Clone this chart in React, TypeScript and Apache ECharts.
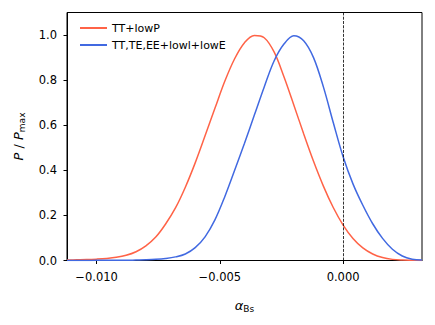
import React, { useEffect, useRef } from "react";
import * as echarts from "echarts";

const xs = [
  -0.0112, -0.0108, -0.0104, -0.01, -0.0096, -0.0092, -0.0088, -0.0084, -0.008, -0.0076,
  -0.0072, -0.0068, -0.0064, -0.006, -0.0056, -0.0052, -0.0048, -0.0044, -0.004, -0.0036,
  -0.0032, -0.0028, -0.0024, -0.002, -0.0016, -0.0012, -0.0008, -0.0004, 0, 0.0004,
  0.0008, 0.0012, 0.0016, 0.002, 0.0024, 0.0028, 0.0032,
];
const redVals = [
  0.002, 0.003, 0.004, 0.006, 0.009, 0.014, 0.023, 0.039, 0.065, 0.104,
  0.162, 0.233, 0.325, 0.433, 0.553, 0.675, 0.795, 0.895, 0.966, 0.998,
  0.988, 0.925, 0.815, 0.69, 0.562, 0.44, 0.33, 0.235, 0.157, 0.098,
  0.056, 0.029, 0.013, 0.005, 0.002, 0.001, 0.0005,
];
const blueVals = [
  0, 0, 0, 0.001, 0.001, 0.001, 0.001, 0.002, 0.003, 0.005,
  0.009, 0.016, 0.029, 0.057, 0.105, 0.18, 0.283, 0.4, 0.52, 0.645,
  0.77, 0.885, 0.96, 0.997, 0.975, 0.9, 0.77, 0.612, 0.46, 0.34,
  0.245, 0.163, 0.098, 0.05, 0.02, 0.006, 0.002,
];
const seriesNames = ["TT+lowP", "TT,TE,EE+lowl+lowE"];
const xTicks = [-0.01, -0.005, 0];
const yTicks = [0, 0.2, 0.4, 0.6, 0.8, 1.0];

const FONT = "DejaVu Sans";

export default function App() {
  const ref = useRef<HTMLDivElement>(null);
  useEffect(() => {
    if (!ref.current) return;
    const chart = echarts.init(ref.current, null, { renderer: "svg" });
    const fmt = (v: number, d: number) => v.toFixed(d).replace("-", "\u2212");
    chart.setOption({
      animation: false,
      textStyle: { fontFamily: FONT },
      grid: {
        left: 67,
        right: 13,
        top: 12.5,
        bottom: 64.5,
        show: true,
        borderColor: "#000",
        borderWidth: 1,
        backgroundColor: "transparent",
      },
      legend: {
        left: 75,
        top: 17,
        orient: "vertical",
        itemWidth: 27,
        itemHeight: 2,
        itemGap: 5,
        icon: "rect",
        textStyle: { fontFamily: FONT, fontSize: 11, color: "#000", lineHeight: 12 },
        data: seriesNames,
      },
      xAxis: {
        type: "value",
        min: -0.0112,
        max: 0.0032,
        name: "{a|\u03b1}{s|Bs}",
        nameLocation: "middle",
        nameGap: 36,
        nameTextStyle: {
          rich: {
            a: { fontFamily: FONT, fontSize: 13, fontStyle: "italic", color: "#000", lineHeight: 18, verticalAlign: "middle" },
            s: { fontFamily: FONT, fontSize: 9, color: "#000", lineHeight: 18, verticalAlign: "bottom", padding: [0, 0, 1, 0] },
          },
        },
        splitLine: { show: false },
        axisLine: { show: true, onZero: false, lineStyle: { color: "#000", width: 1 } },
        axisTick: {
          show: true,
          length: 3.5,
          lineStyle: { color: "#000", width: 1 },
          customValues: xTicks,
        },
        axisLabel: {
          customValues: xTicks,
          formatter: (v: number) => fmt(v, 3),
          fontFamily: FONT,
          fontSize: 11.5,
          color: "#000",
          margin: 10,
        },
      },
      yAxis: {
        type: "value",
        min: 0,
        max: 1.1,
        name: "{i|P}{n| / }{i|P}{s|max}",
        nameLocation: "middle",
        nameGap: 38,
        nameTextStyle: {
          rich: {
            i: { fontFamily: FONT, fontSize: 13, fontStyle: "italic", color: "#000", lineHeight: 18, verticalAlign: "middle" },
            n: { fontFamily: FONT, fontSize: 13, color: "#000", lineHeight: 18, verticalAlign: "middle" },
            s: { fontFamily: FONT, fontSize: 9, color: "#000", lineHeight: 18, verticalAlign: "bottom", padding: [0, 0, 1, 0] },
          },
        },
        splitLine: { show: false },
        axisLine: { show: true, onZero: false, lineStyle: { color: "#000", width: 1 } },
        axisTick: {
          show: true,
          length: 3.5,
          lineStyle: { color: "#000", width: 1 },
          customValues: yTicks,
        },
        axisLabel: {
          customValues: yTicks,
          formatter: (v: number) => fmt(v, 1),
          fontFamily: FONT,
          fontSize: 11.5,
          color: "#000",
          margin: 10,
        },
      },
      series: [
        {
          name: seriesNames[0],
          type: "line",
          data: xs.map((x, i) => [x, redVals[i]]),
          smooth: 0.35,
          showSymbol: false,
          color: "#FF6347",
          lineStyle: { color: "#FF6347", width: 1.5 },
          markLine: {
            silent: true,
            symbol: "none",
            label: { show: false },
            lineStyle: { color: "#000", width: 0.8, type: [3, 1.3] },
            data: [{ xAxis: 0 }],
          },
        },
        {
          name: seriesNames[1],
          type: "line",
          data: xs.map((x, i) => [x, blueVals[i]]),
          smooth: 0.35,
          showSymbol: false,
          color: "#4169E1",
          lineStyle: { color: "#4169E1", width: 1.5 },
        },
      ],
    });
    return () => chart.dispose();
  }, []);
  return <div ref={ref} style={{ width: 435, height: 325, marginLeft: -8, marginTop: -8 }} />;
}
